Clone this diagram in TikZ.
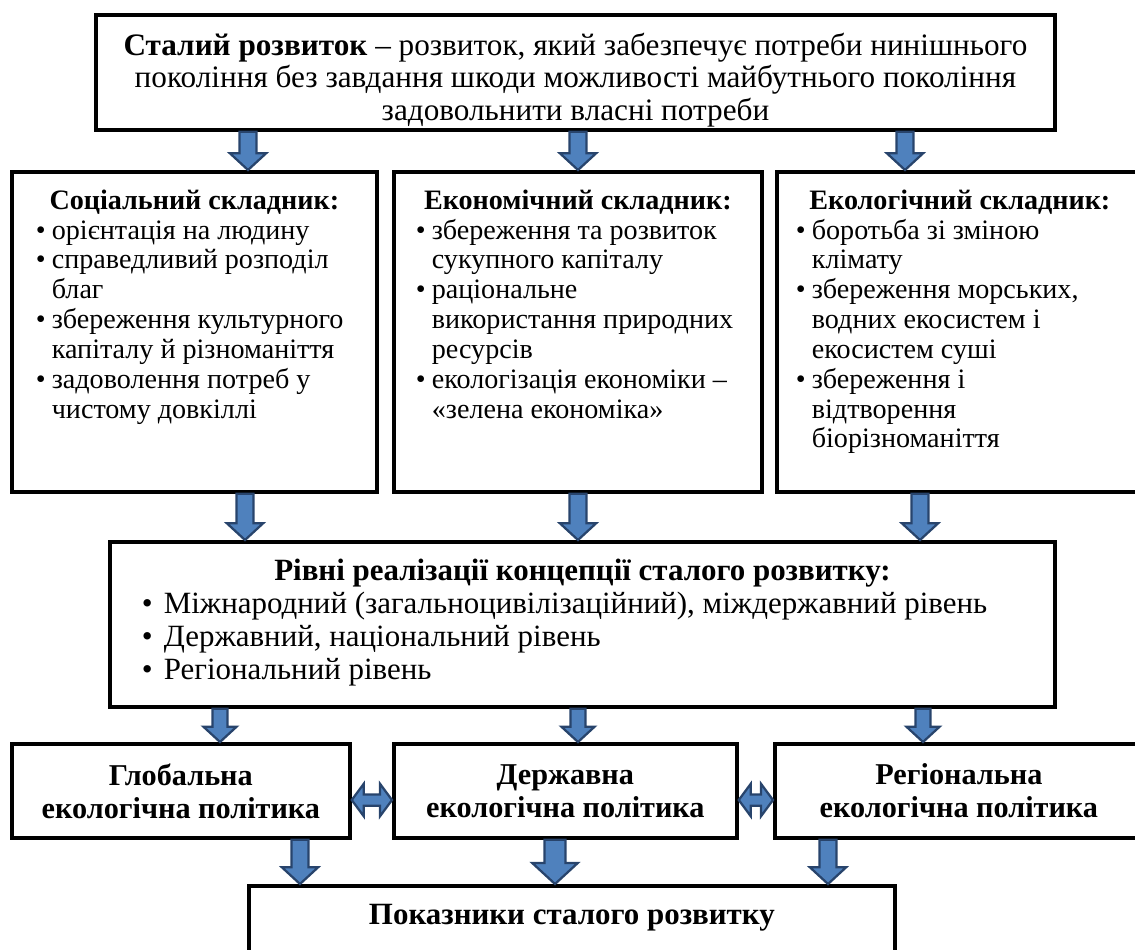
\documentclass[tikz,border=0pt]{standalone}
\usepackage{fontspec}
\setmainfont{Liberation Serif}
\usepackage{tikz}
\usetikzlibrary{calc}
\definecolor{arrblue}{RGB}{79,129,189}
\definecolor{arrline}{RGB}{40,68,108}
\newcommand{\bul}{\makebox[0.4cm][l]{•}}
\newcommand{\ind}{\hspace*{0.4cm}}
\newcommand{\vblock}[3][1]{%
  \draw[blockarr] let \p1=#2, \p2=#3 in
    (\x1-#1*6pt,\y1) -- (\x1+#1*6pt,\y1) -- (\x1+#1*6pt,\y2+#1*12pt)
    -- (\x1+#1*13pt,\y2+#1*12pt) -- (\x1,\y2) -- (\x1-#1*13pt,\y2+#1*12pt)
    -- (\x1-#1*6pt,\y2+#1*12pt) -- cycle;}
\newcommand{\hblock}[2]{%
  \draw[blockarr] let \p1=#1, \p2=#2 in
    (\x1,\y1) -- (\x1+8.5pt,\y1+11.5pt) -- (\x1+8.5pt,\y1+4pt) -- (\x2-8.5pt,\y1+4pt)
    -- (\x2-8.5pt,\y1+11.5pt) -- (\x2,\y1) -- (\x2-8.5pt,\y1-11.5pt) -- (\x2-8.5pt,\y1-4pt)
    -- (\x1+8.5pt,\y1-4pt) -- (\x1+8.5pt,\y1-11.5pt) -- cycle;}

\begin{document}
\begin{tikzpicture}[x=0.025cm, y=-0.025cm,
    box/.style = {draw, line width=2.6pt, inner sep=0pt, anchor=north west},
    part/.style = {box, font=\fontsize{20}{21.2}\selectfont},
    policy/.style = {box, minimum height=2.35cm, align=center, font=\fontsize{21.5}{23.5}\selectfont\bfseries},
    blockarr/.style = {fill=arrblue, draw=arrline, line width=1.6pt}]
    \useasboundingbox (0,0) rectangle (1135,949);
    \clip (0,0) rectangle (1135,949);

    \node[box, minimum width=23.975cm, font=\fontsize{22.2}{23.2}\selectfont] (top) at (94,13)
      {\parbox[c][2.875cm][t]{23.5cm}{\centering\vspace*{0.45cm}
        \textbf{Сталий розвиток} – розвиток, який забезпечує потреби нинішнього\\
        покоління без завдання шкоди можливості майбутнього покоління\\
        задовольнити власні потреби}};

    \node[part, minimum width=9.125cm] (soc) at (10,170)
      {\parbox[c][8cm][t]{7.925cm}{\vspace*{0.45cm}
        {\centering\textbf{Соціальний складник:}\par}\raggedright
        \bul орієнтація на людину\\
        \bul справедливий розподіл\\ \ind благ\\
        \bul збереження культурного\\ \ind капіталу й різноманіття\\
        \bul задоволення потреб у\\ \ind чистому довкіллі}};
    \node[part, minimum width=9.2cm] (econ) at (392,170)
      {\parbox[c][8cm][t]{8.1cm}{\vspace*{0.45cm}
        {\centering\textbf{Економічний складник:}\par}\raggedright
        \bul збереження та розвиток\\ \ind сукупного капіталу\\
        \bul раціональне\\ \ind використання природних\\ \ind ресурсів\\
        \bul екологізація економіки –\\ \ind «зелена економіка»}};
    \node[part, minimum width=9.15cm] (ecol) at (775,170)
      {\parbox[c][8cm][t]{8.2cm}{\vspace*{0.45cm}
        {\centering\textbf{Екологічний складник:}\par}\raggedright
        \bul боротьба зі зміною\\ \ind клімату\\
        \bul збереження морських,\\ \ind водних екосистем і\\ \ind екосистем суші\\
        \bul збереження і\\ \ind відтворення\\ \ind біорізноманіття}};

    \node[box, minimum width=23.625cm, font=\fontsize{22}{23.5}\selectfont] (lvl) at (108,540)
      {\parbox[c][4.125cm][t]{22.025cm}{\vspace*{0.42cm}
        {\centering\textbf{Рівні реалізації концепції сталого розвитку:}\par}\raggedright
        \makebox[0.55cm][l]{•}Міжнародний (загальноцивілізаційний), міждержавний рівень\\
        \makebox[0.55cm][l]{•}Державний, національний рівень\\
        \makebox[0.55cm][l]{•}Регіональний рівень}};

    \node[policy, minimum width=8.45cm] (glob) at (10,742) {Глобальна\\екологічна політика};
    \node[policy, minimum width=8.575cm] (derzh) at (392,742) {Державна\\екологічна політика};
    \node[policy, minimum width=9.2cm] (reg) at (773,742) {Регіональна\\екологічна політика};

    \node[box, minimum width=16.15cm, font=\fontsize{22}{24}\selectfont] (ind) at (247,884)
      {\parbox[c][3.75cm][t]{16.15cm}{\vspace*{0.45cm}\centering\textbf{Показники сталого розвитку}}};

    \vblock{(248,0 |- top.south)}{(248,0 |- soc.north)}
    \vblock{(578,0 |- top.south)}{(578,0 |- econ.north)}
    \vblock{(905,0 |- top.south)}{(905,0 |- ecol.north)}
    \vblock{(245,0 |- soc.south)}{(245,0 |- lvl.north)}
    \vblock{(578,0 |- econ.south)}{(578,0 |- lvl.north)}
    \vblock{(920,0 |- ecol.south)}{(920,0 |- lvl.north)}
    \vblock[0.9]{(220,0 |- lvl.south)}{(220,0 |- glob.north)}
    \vblock[0.9]{(578,0 |- lvl.south)}{(578,0 |- derzh.north)}
    \vblock[0.9]{(923,0 |- lvl.south)}{(923,0 |- reg.north)}
    \vblock{(300,0 |- glob.south)}{(300,0 |- ind.north)}
    \vblock[1.25]{(555,0 |- derzh.south)}{(555,0 |- ind.north)}
    \vblock{(828,0 |- reg.south)}{(828,0 |- ind.north)}
    \hblock{(glob.east |- 0,800)}{(derzh.west |- 0,800)}
    \hblock{(derzh.east |- 0,800)}{(reg.west |- 0,800)}
\end{tikzpicture}
\end{document}
